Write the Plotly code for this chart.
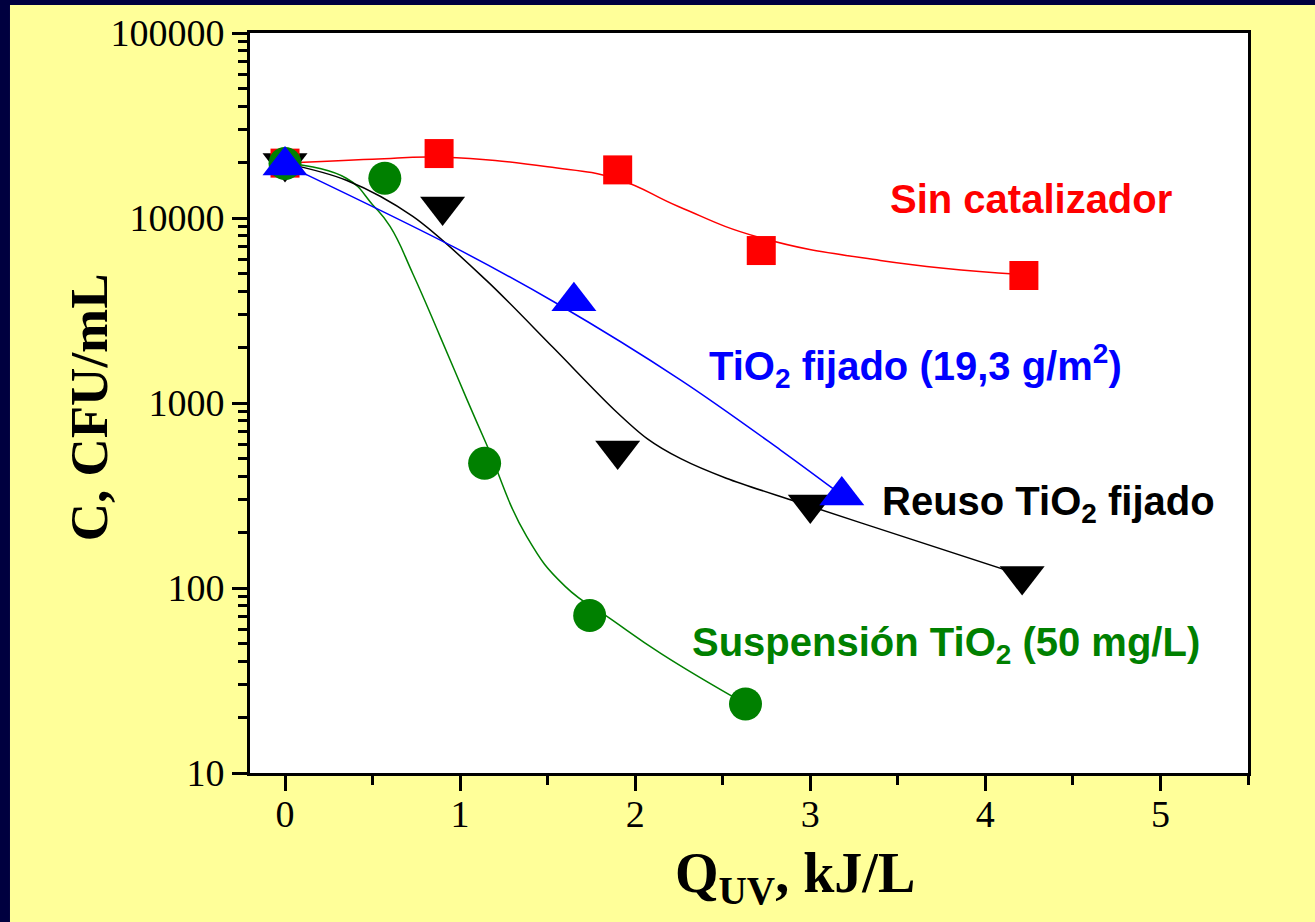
import plotly.graph_objects as go

# Measured points: dose Q_UV (kJ/L) and concentration C (CFU/mL)
q_sin = [0, 0.88, 1.9, 2.72, 4.22]
c_sin = [19800, 22300, 18200, 6670, 4890]

q_susp = [0, 0.57, 1.14, 1.74, 2.63]
c_susp = [19700, 16400, 472, 71, 23.6]

q_fij = [0, 1.65, 3.18]
c_fij = [19200, 3550, 316]

q_reuso = [0, 0.9, 1.9, 3.0, 4.21]
c_reuso = [19800, 11550, 553, 283, 116]

# Fitted trend curves
fit_sin_q = [0, 0.5, 0.9, 1.5, 1.9, 2.25, 2.7, 3.4, 4.2]
fit_sin_c = [19800, 20800, 21300, 18900, 16200, 11500, 7900, 5900, 4950]

fit_susp_q = [0, 0.35, 0.5, 0.6, 0.73, 0.885, 1.04, 1.15, 1.38, 1.6, 1.87, 2.15, 2.63]
fit_susp_c = [19800, 16400, 11800, 9000, 5000, 2300, 1040, 600, 190, 102, 67, 44, 23.6]

fit_reuso_q = [0, 0.35, 0.73, 1.15, 1.53, 1.88, 2.07, 2.26, 2.52, 2.92, 3.36, 4.2]
fit_reuso_c = [19800, 16000, 10200, 4600, 2000, 920, 640, 500, 392, 293, 214, 118]

fit_fij_q = [0, 0.96, 1.55, 2.26, 2.83, 3.14]
fit_fij_c = [19500, 7000, 3460, 1330, 557, 339]

x_ticks = [0, 1, 2, 3, 4, 5]
y_ticks = [10, 100, 1000, 10000, 100000]
y_tick_labels = ["10", "100", "1000", "10000", "100000"]

RED = "#FF0000"
GREEN = "#008000"
BLUE = "#0000FF"
BLACK = "#000000"
NAVY = "#00003F"
YELLOW = "#FFFF99"

fig = go.Figure()

# trend curves
for qx, cy, col, sm in [(fit_sin_q, fit_sin_c, RED, 1.3),
                        (fit_susp_q, fit_susp_c, GREEN, 1.3),
                        (fit_reuso_q, fit_reuso_c, BLACK, 0.9),
                        (fit_fij_q, fit_fij_c, BLUE, 1.0)]:
    fig.add_trace(go.Scatter(x=qx, y=cy, mode="lines",
                             line=dict(color=col, width=1.5, shape="spline", smoothing=sm),
                             showlegend=False, hoverinfo="skip"))

# markers
fig.add_trace(go.Scatter(x=q_reuso, y=c_reuso, mode="markers", showlegend=False,
                         marker=dict(symbol="triangle-down", size=39, color=BLACK,
                                     line=dict(width=0))))
fig.add_trace(go.Scatter(x=q_sin, y=c_sin, mode="markers", showlegend=False,
                         marker=dict(symbol="square", size=29, color=RED,
                                     line=dict(width=0))))
fig.add_trace(go.Scatter(x=q_susp, y=c_susp, mode="markers", showlegend=False,
                         marker=dict(symbol="circle", size=33, color=GREEN,
                                     line=dict(width=0))))
fig.add_trace(go.Scatter(x=q_fij, y=c_fij, mode="markers", showlegend=False,
                         marker=dict(symbol="triangle-up", size=39, color=BLUE,
                                     line=dict(width=0))))

minor_y = [m * 10 ** e for e in range(1, 5) for m in range(2, 10)]

tick_font = dict(family="Liberation Serif, Times New Roman, serif", size=38, color="black")

fig.update_xaxes(range=[-0.2, 5.5], tickmode="array", tickvals=x_ticks,
                 ticks="outside", ticklen=15, tickwidth=2.5, tickcolor="black",
                 showline=True, linecolor="black", linewidth=3, mirror=True,
                 showgrid=False, zeroline=False, tickfont=tick_font,
                 ticklabelstandoff=-10,
                 minor=dict(dtick=0.5, tick0=0, ticks="outside", ticklen=9,
                            tickwidth=2.5, tickcolor="black", showgrid=False))
fig.update_yaxes(type="log", range=[1, 5], tickmode="array", tickvals=y_ticks,
                 ticktext=y_tick_labels,
                 ticks="outside", ticklen=15, tickwidth=2.5, tickcolor="black",
                 showline=True, linecolor="black", linewidth=3, mirror=True,
                 showgrid=False, zeroline=False, tickfont=tick_font,
                 minor=dict(tickmode="array", tickvals=minor_y, ticks="outside",
                            ticklen=9, tickwidth=2.5, tickcolor="black", showgrid=False))

label_font = "Liberation Sans, Arial, sans-serif"
notes = [
    ("Sin catalizador", RED, 0.639, 0.775),
    ("TiO<sub>2</sub> fijado (19,3 g/m<sup>2</sup>)", BLUE, 0.458, 0.550),
    ("Reuso TiO<sub>2</sub> fijado", BLACK, 0.631, 0.363),
    ("Suspensión TiO<sub>2</sub> (50 mg/L)", GREEN, 0.441, 0.173),
]
for txt, col, px, py in notes:
    fig.add_annotation(text="<b>" + txt + "</b>", xref="paper", yref="paper",
                       x=px, y=py, xanchor="left", yanchor="middle", showarrow=False,
                       font=dict(family=label_font, size=40, color=col))

serif = "Liberation Serif, Times New Roman, serif"
fig.add_annotation(text="<b>C, CFU/mL</b>", xref="paper", yref="paper",
                   x=-0.161, y=0.4946, xanchor="center", yanchor="middle",
                   textangle=-90, showarrow=False,
                   font=dict(family=serif, size=53, color="black"))
fig.add_annotation(text="<b>Q<sub>UV</sub>, kJ/L</b>", xref="paper", yref="paper",
                   x=0.546, y=-0.14, xanchor="center", yanchor="middle",
                   showarrow=False,
                   font=dict(family=serif, size=56, color="black"))

# dark frame along the top and left edges of the page
fig.add_shape(type="rect", xref="paper", yref="paper", x0=-0.27, x1=1.08,
              y0=1.0378, y1=1.07, fillcolor=NAVY, line=dict(width=0), layer="above")
fig.add_shape(type="rect", xref="paper", yref="paper", x0=-0.27, x1=-0.2405,
              y0=-0.22, y1=1.07, fillcolor=NAVY, line=dict(width=0), layer="above")

fig.update_layout(width=1315, height=922,
                  margin=dict(l=250, r=67, t=33, b=149, pad=0),
                  paper_bgcolor=YELLOW, plot_bgcolor="white",
                  showlegend=False)

fig.write_html("out.html")
